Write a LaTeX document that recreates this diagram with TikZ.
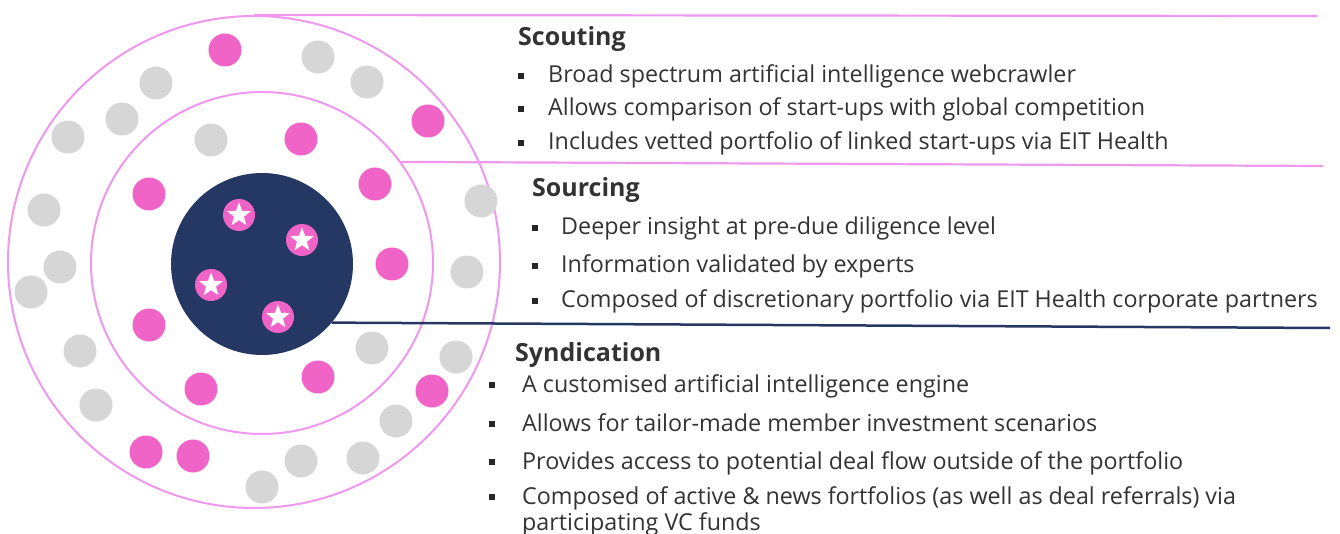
\documentclass[tikz,border=0pt]{standalone}
\usepackage{fontspec}
\setmainfont{Open Sans}
\usetikzlibrary{shapes.geometric}
\definecolor{dotpink}{HTML}{F064C8}
\definecolor{dotgrey}{HTML}{D6D6D6}
\definecolor{navy}{HTML}{253863}
\definecolor{ringpink}{HTML}{EE98EE}
\definecolor{txt}{HTML}{333333}
\tikzset{
 ring/.style={circle, draw=ringpink, line width=2pt, inner sep=0pt},
 pdot/.style={circle, fill=dotpink, minimum size=33pt, inner sep=0pt},
 gdot/.style={circle, fill=dotgrey, minimum size=33pt, inner sep=0pt},
 stardisc/.style={circle, fill=dotpink, minimum size=32pt, inner sep=0pt},
 starmark/.style={star, star points=5, star point ratio=2.4, fill=white, minimum size=25pt, inner sep=0pt},
 head/.style={anchor=base west, inner sep=0pt, text=txt, font=\fontsize{25}{29}\selectfont\bfseries},
 item/.style={anchor=base west, inner sep=0pt, text=txt, font=\fontsize{23.3}{27}\selectfont},
 bul/.style={rectangle, fill=black!85, minimum size=6pt, inner sep=0pt},
 pinkline/.style={draw=ringpink, line width=2.2pt},
 navyline/.style={draw=navy, line width=2.5pt},
}
\begin{document}
\begin{tikzpicture}[x=1pt,y=-1pt]
\useasboundingbox (0,0) rectangle (1340,534);
\fill[white] (0,0) rectangle (1340,534);
% rings
\node[ring, minimum size=492pt] (outer) at (254,262) {};
\node[ring, minimum size=342pt] (mid) at (262,263) {};
\node[circle, fill=navy, minimum size=182pt, inner sep=0pt] (inner) at (262,264) {};
% grey dots
\node[gdot] (g1) at (318,57) {};
\node[gdot] (g2) at (156,83) {};
\node[gdot] (g3) at (367,82) {};
\node[gdot] (g4) at (122,119) {};
\node[gdot] (g5) at (68,137) {};
\node[gdot] (g6) at (211,140) {};
\node[gdot] (g7) at (44,210) {};
\node[gdot] (g8) at (481,201) {};
\node[gdot] (g9) at (60,267) {};
\node[gdot] (g10) at (31,292) {};
\node[gdot] (g11) at (467,272) {};
\node[gdot] (g12) at (372,348) {};
\node[gdot] (g13) at (456,357) {};
\node[gdot] (g14) at (80,351) {};
\node[gdot] (g15) at (96,405) {};
\node[gdot] (g16) at (396,421) {};
\node[gdot] (g17) at (301,461) {};
\node[gdot] (g18) at (363,458) {};
\node[gdot] (g19) at (262,487) {};
% pink dots
\node[pdot] (p1) at (225,50) {};
\node[pdot] (p2) at (428,121) {};
\node[pdot] (p3) at (301,139) {};
\node[pdot] (p4) at (149,194) {};
\node[pdot] (p5) at (375,184) {};
\node[pdot] (p6) at (392,264) {};
\node[pdot] (p7) at (149,325) {};
\node[pdot] (p8) at (318,377) {};
\node[pdot] (p9) at (201,389) {};
\node[pdot] (p10) at (432,391) {};
\node[pdot] (p11) at (146,452) {};
\node[pdot] (p12) at (193,456) {};
% stars
\foreach \n/\px/\py in {s1/239/215, s2/302/240, s3/211/285, s4/278/317}{
  \node[stardisc] (\n) at (\px,\py) {};
  \node[starmark] (\n m) at (\n) {};
}
% connector lines
\coordinate (e1) at (1318,16);
\coordinate (e2) at (1323,166);
\coordinate (e3) at (1330,328);
\draw[pinkline] (outer.north) -- (e1);
\draw[pinkline] (mid.36) -- (e2);
\draw[navyline] (inner.-40) -- (e3);
% Scouting
\node[head] (h1) at (518,46) {Scouting};
\node[bul] (b11) at (521,76) {};
\node[item] (t11) at (548,83) {Broad spectrum artificial intelligence webcrawler};
\node[bul] (b12) at (521,109) {};
\node[item] (t12) at (548,116) {Allows comparison of start-ups with global competition};
\node[bul] (b13) at (521,143) {};
\node[item] (t13) at (548,150) {Includes vetted portfolio of linked start-ups via EIT Health};
% Sourcing
\node[head] (h2) at (532,197) {Sourcing};
\node[bul] (b21) at (535,228) {};
\node[item] (t21) at (561,235) {Deeper insight at pre-due diligence level};
\node[bul] (b22) at (535,266) {};
\node[item] (t22) at (561,273) {Information validated by experts};
\node[bul] (b23) at (535,301) {};
\node[item] (t23) at (561,308) {Composed of discretionary portfolio via EIT Health corporate partners};
% Syndication
\node[head] (h3) at (515,361) {Syndication};
\node[bul] (b31) at (492,385) {};
\node[item] (t31) at (522,392) {A customised artificial intelligence engine};
\node[bul] (b32) at (492,424) {};
\node[item] (t32) at (522,431) {Allows for tailor-made member investment scenarios};
\node[bul] (b33) at (492,462) {};
\node[item] (t33) at (522,469) {Provides access to potential deal flow outside of the portfolio};
\node[bul] (b34) at (492,497) {};
\node[item] (t34) at (522,504) {Composed of active \& news fortfolios (as well as deal referrals) via};
\node[item] (t35) at (522,530) {participating VC funds};
\end{tikzpicture}
\end{document}
